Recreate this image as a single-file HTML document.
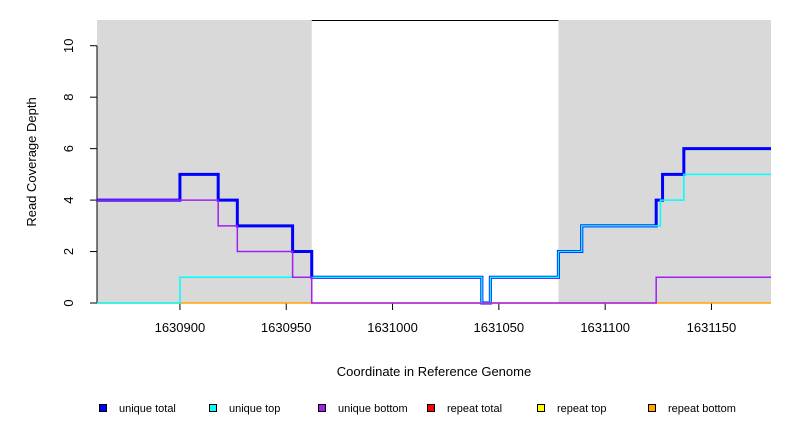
<!DOCTYPE html>
<html><head><meta charset="utf-8"><style>
body{margin:0;background:#fff}
svg text{font-family:"Liberation Sans",sans-serif;fill:#000}
</style></head><body>
<svg id="c" width="792" height="432" xmlns="http://www.w3.org/2000/svg"></svg>
<script>
const xDomain=[1630861,1631178];
const yDomain=[0,11];
const xTicks=[1630900,1630950,1631000,1631050,1631100,1631150];
const yTicks=[0,2,4,6,8,10];
const grayRegions=[[1630861,1630962],[1631078,1631178]];
const uniqueTotalX=[1630861,1630900,1630918,1630927,1630953,1630962,1631042,1631046,1631078,1631089,1631124,1631127,1631137,1631178];
const uniqueTotalY=[4,5,4,3,2,1,0,1,2,3,4,5,6];
const uniqueTopX=[1630861,1630900,1631042,1631046,1631078,1631089,1631126,1631137,1631178];
const uniqueTopY=[0,1,0,1,2,3,4,5];
const uniqueBottomX=[1630861,1630918,1630927,1630953,1630962,1631124,1631178];
const uniqueBottomY=[4,3,2,1,0,1];
const repeatBottomX=[1630861,1631178];
const repeatBottomY=[0];
const legendLabels=["unique total","unique top","unique bottom","repeat total","repeat top","repeat bottom"];
const legendColors=["#0000ff","#00ffff","#a020f0","#ff0000","#ffff00","#ffa500"];

const L=97,R=771,T=20,B=303;
const sx=v=>L+(v-xDomain[0])/(xDomain[1]-xDomain[0])*(R-L);
const sy=v=>B-(v-yDomain[0])/(yDomain[1]-yDomain[0])*(B-T);
const svg=document.getElementById('c');
const NS='http://www.w3.org/2000/svg';
function mk(tag,attrs,parent){const e=document.createElementNS(NS,tag);for(const k in attrs)e.setAttribute(k,attrs[k]);(parent||svg).appendChild(e);return e;}

grayRegions.forEach(r=>{
  const e=mk('rect',{x:sx(r[0]),y:T,width:sx(r[1])-sx(r[0]),height:B-T,fill:'#d9d9d9'});
  
  
});
const tl=mk('line',{x1:sx(grayRegions[0][1]),x2:sx(grayRegions[1][0]),y1:T+0.5,y2:T+0.5,stroke:'#000'});



// y axis
const ya=mk('line',{x1:L,x2:L,y1:sy(0),y2:sy(10),stroke:'#000'});


yTicks.forEach(v=>{
  mk('line',{x1:L-7,x2:L,y1:sy(v),y2:sy(v),stroke:'#000'});
  const t=mk('text',{x:0,y:0,'font-size':13,'text-anchor':'middle',transform:`translate(${L-24},${sy(v)}) rotate(-90)`});
  t.textContent=v;
  
  
});
// x axis
const xa=mk('line',{x1:sx(xTicks[0]),x2:sx(xTicks[xTicks.length-1]),y1:B,y2:B,stroke:'#000'});


xTicks.forEach(v=>{
  mk('line',{x1:sx(v),x2:sx(v),y1:B,y2:B+7,stroke:'#000'});
  const t=mk('text',{x:sx(v),y:B+29,'font-size':13,'text-anchor':'middle'});
  t.textContent=v;
  
  
});

function stepPath(xs,ys){let d='M'+sx(xs[0])+','+sy(ys[0]);for(let i=0;i<ys.length;i++){d+=' L'+sx(xs[i+1])+','+sy(ys[i]);if(i+1<ys.length)d+=' L'+sx(xs[i+1])+','+sy(ys[i+1]);}return d;}
function series(xs,ys,color,w,name){
  const p=mk('path',{d:stepPath(xs,ys),fill:'none',stroke:color,'stroke-width':w});
  
  
}
series(uniqueTotalX,uniqueTotalY,'#0000ff',3,'unique-total-line');
series(repeatBottomX,repeatBottomY,'#ffa500',1.5,'repeat-bottom-line');
series(uniqueTopX,uniqueTopY,'#00ffff',1.5,'unique-top-line');
series(uniqueBottomX,uniqueBottomY,'#a020f0',1.5,'unique-bottom-line');

const xt=mk('text',{x:434,y:376,'font-size':13,'text-anchor':'middle'});
xt.textContent='Coordinate in Reference Genome';


const yt=mk('text',{x:0,y:0,'font-size':13,'text-anchor':'middle',transform:`translate(36,162) rotate(-90)`});
yt.textContent='Read Coverage Depth';



const legendX=[99,209,318,427,537,648];
legendLabels.forEach((lab,i)=>{
  const g=mk('g',{});
  
  
  mk('rect',{x:legendX[i]+0.5,y:404.5,width:7,height:7,fill:legendColors[i],stroke:'#000','stroke-width':1},g);
  const t=mk('text',{x:legendX[i]+20,y:412,'font-size':11},g);
  t.textContent=lab;
});
</script>
</body></html>
